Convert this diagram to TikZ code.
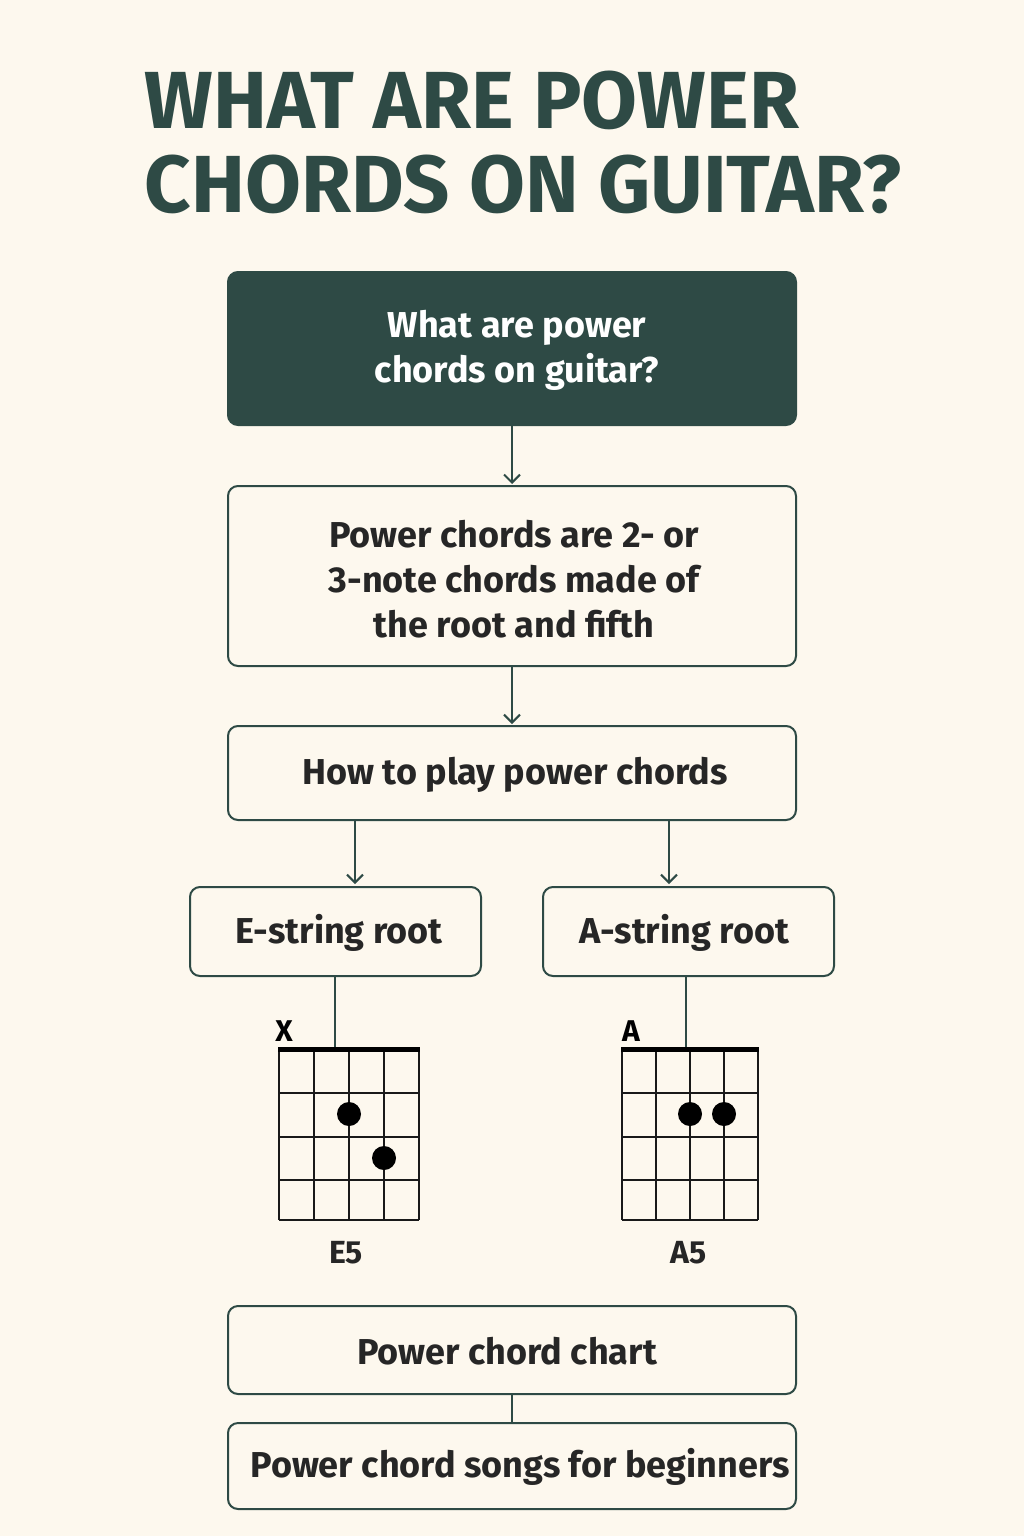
\documentclass[tikz,border=0pt]{standalone}
\usepackage{fontspec}
\setmainfont{Fira Sans}
\usetikzlibrary{arrows.meta}
\definecolor{dk}{HTML}{2E4A45}
\definecolor{bg}{HTML}{FDF8EE}
\tikzset{
 box/.style={draw=dk,line width=2pt,rounded corners=10pt,fill=bg},
 txt/.style={font=\fontsize{36}{45}\selectfont\bfseries,text=black!85,align=center},
 arr/.style={draw=dk,line width=2pt,-{Straight Barb[length=8pt,width=16pt]}},
 ln/.style={draw=dk,line width=2pt},
 grid/.style={draw=black!90,line width=2pt},
}
\begin{document}
\begin{tikzpicture}[x=1pt,y=-1pt]
\fill[bg] (0,0) rectangle (1024,1536);
\useasboundingbox (0,0) rectangle (1024,1536);
\node[anchor=west,text=dk,font=\fontsize{81}{84}\selectfont\bfseries,align=left] (title) at (141,142) {WHAT ARE POWER\\CHORDS ON GUITAR?};
\draw[box,fill=dk] (228,272) rectangle (796,425);
\node[txt,text=white] (b1) at (517,350) {What are power\\chords on guitar?};
\coordinate (b1s) at (512,425);
\draw[box] (228,486) rectangle (796,666);
\node[txt] (b2) at (514,579) {Power chords are 2- or\\3-note chords made of\\the root and fifth};
\coordinate (b2n) at (512,484); \coordinate (b2s) at (512,666);
\draw[box] (228,726) rectangle (796,820);
\node[txt] (b3) at (515,775) {How to play power chords};
\coordinate (b3n) at (512,724);
\draw[box] (190,887) rectangle (481,976);
\node[txt] (e) at (339,933) {E-string root};
\draw[box] (543,887) rectangle (834,976);
\node[txt] (a) at (684,933) {A-string root};
\draw[arr] (b1s) -- (b2n);
\draw[arr] (b2s) -- (b3n);
\draw[arr] (355,820) -- (355,884);
\draw[arr] (669,820) -- (669,884);
\draw[ln] (335,976) -- (335,1048);
\draw[ln] (686,976) -- (686,1048);
% E5 grid
\foreach \x in {279,314,349,384,419} \draw[grid] (\x,1048) -- (\x,1220);
\foreach \y in {1093,1137,1180,1220} \draw[grid] (279,\y) -- (419,\y);
\draw[line width=5pt] (278,1049) -- (420,1049);
\fill (349,1114) circle (12); \fill (384,1158) circle (12);
\node[font=\fontsize{30}{30}\selectfont\bfseries] (xm) at (284,1031) {X};
\node[txt,font=\fontsize{32}{30}\selectfont\bfseries] (e5) at (346,1253) {E5};
% A5 grid
\foreach \x in {622,656,690,724,758} \draw[grid] (\x,1048) -- (\x,1220);
\foreach \y in {1093,1137,1180,1220} \draw[grid] (622,\y) -- (758,\y);
\draw[line width=5pt] (621,1049) -- (759,1049);
\fill (690,1114) circle (12); \fill (724,1114) circle (12);
\node[font=\fontsize{30}{30}\selectfont\bfseries] (am) at (631,1031) {A};
\node[txt,font=\fontsize{32}{30}\selectfont\bfseries] (a5) at (689,1253) {A5};
\draw[box] (228,1306) rectangle (796,1394);
\node[txt] (c) at (507,1351) {Power chord chart};
\draw[box] (228,1423) rectangle (796,1509);
\node[txt] (s) at (520,1467) {Power chord songs for beginners};
\draw[ln] (512,1394) -- (512,1423);
\end{tikzpicture}
\end{document}
